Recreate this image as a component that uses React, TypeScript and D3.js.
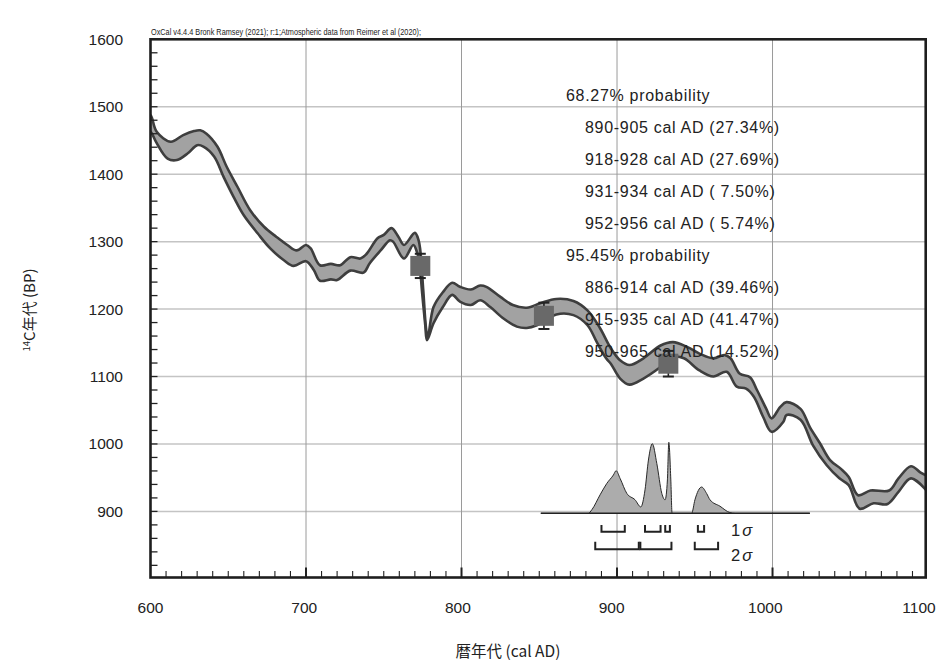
import React from "react";
import * as d3 from "d3";

// ---------- data ----------
const curveUpper: [number, number][] = [
  [600, 1488], [601, 1483], [604, 1463], [613, 1448], [621, 1458], [628, 1464], [632, 1465], [636, 1460],
  [643, 1441], [649, 1411], [656, 1381], [664, 1347], [673, 1322], [681, 1307], [688, 1295], [694, 1287],
  [700, 1295], [703, 1290], [709, 1265], [716, 1267], [722, 1265], [728.5, 1277], [735, 1275], [739, 1282],
  [746, 1305], [750, 1310], [755, 1320], [759.5, 1307], [763, 1295], [770, 1313], [772.4, 1302], [773.5, 1287],
  [775.4, 1228], [777.3, 1169], [778.3, 1158], [782, 1203], [788, 1225], [794, 1239], [799, 1233], [806, 1229],
  [812, 1235], [816, 1233], [825, 1218], [833, 1206], [842, 1202], [851, 1209], [861, 1215], [872, 1212],
  [881, 1198], [889, 1172], [896, 1142], [902, 1124], [908, 1117], [917, 1127], [928, 1146], [936, 1151],
  [945, 1144], [953, 1134], [962, 1127], [969, 1132], [973, 1127], [979, 1104], [985.5, 1099], [990, 1080],
  [996, 1052], [999.4, 1038], [1005, 1055], [1009, 1062], [1018, 1052], [1024, 1025], [1030.5, 1001], [1037, 976],
  [1044, 963], [1049, 951], [1055, 924], [1063, 931], [1075, 931], [1081, 949], [1089, 967], [1095, 958], [1099, 953],
];
const curveLower: [number, number][] = [
  [600, 1463], [601, 1460], [604, 1446], [611, 1423], [617, 1421], [624, 1431], [630, 1443], [634, 1441],
  [641, 1426], [647, 1396], [653.5, 1366], [660, 1339], [669, 1312], [677, 1290], [686, 1272], [692, 1264],
  [700, 1271], [705, 1258], [709, 1242], [716, 1244], [720, 1243], [728.5, 1257], [737, 1254], [741, 1268],
  [748, 1287], [754, 1302], [756, 1300], [763, 1275], [769, 1295], [771.3, 1285], [772.8, 1270], [774.8, 1221],
  [776.7, 1176], [777.8, 1154], [782, 1179], [788, 1203], [794, 1221], [799, 1211], [806, 1206], [812, 1213],
  [818.5, 1203], [827, 1186], [835.6, 1174], [842, 1172], [848.5, 1176], [861, 1192], [872, 1191], [881, 1176],
  [887, 1151], [893, 1127], [896, 1119], [902, 1097], [908, 1088], [917, 1097], [928, 1114], [936, 1129],
  [943, 1127], [953, 1109], [962, 1100], [970.5, 1107], [977, 1085], [983, 1082], [988, 1070], [994, 1040],
  [999.4, 1018], [1007, 1033], [1009, 1043], [1018, 1036], [1026, 998], [1035, 968], [1043, 949], [1049, 939],
  [1056, 904], [1065, 912], [1074, 911], [1081, 929], [1089, 949], [1099, 931],
];

const dateYears = [773.5, 853, 933];
const dateBP = [1264, 1190, 1119];
const dateErr = [18, 19.5, 19];

const pdfYears = [851, 881.6, 883.8, 889.1, 893.4, 897.7, 899.4, 902, 906.3, 911.6, 915.3, 918, 920.2, 922.7,
  925.6, 928.8, 930.9, 932.4, 933.3, 934.6, 935.4, 948, 950.1, 954.4, 957.6, 959.8, 966.2, 972.6, 976, 1024];
const pdfDensity = [0, 0, 0.05, 0.26, 0.42, 0.54, 0.6, 0.49, 0.28, 0.19, 0.09, 0.33, 0.75, 0.98,
  0.7, 0.28, 0.19, 0.47, 1.0, 0.47, 0, 0, 0.19, 0.37, 0.28, 0.19, 0.1, 0.01, 0, 0];

const oneSigma: [number, number][] = [[890, 905], [918, 928], [931, 934], [952, 956]];
const twoSigma: [number, number][] = [[886, 914], [915, 935], [950, 965]];

const probHeaders = ["68.27% probability", "95.45% probability"];
const probLines68 = ["890-905 cal AD (27.34%)", "918-928 cal AD (27.69%)", "931-934 cal AD ( 7.50%)", "952-956 cal AD ( 5.74%)"];
const probLines95 = ["886-914 cal AD (39.46%)", "915-935 cal AD (41.47%)", "950-965 cal AD (14.52%)"];

const xTickLabels = [600, 700, 800, 900, 1000, 1100];
const yTickLabels = [900, 1000, 1100, 1200, 1300, 1400, 1500, 1600];

const headerText = "OxCal v4.4.4 Bronk Ramsey (2021); r:1;Atmospheric data from Reimer et al (2020);";

// ---------- layout ----------
const W = 939, H = 666;
const L = 150.5, R = 925.7, T = 39.3, B = 577.5;
const X_MIN = 600, X_MAX = 1098.5, Y_MIN = 802, Y_MAX = 1600;
const FONT = "'Liberation Sans', Arial, Helvetica, sans-serif";
const JFONT = "'Noto Sans CJK JP', 'Liberation Sans', sans-serif";

export default function App() {
  const x = d3.scaleLinear().domain([X_MIN, X_MAX]).range([L, R]);
  const y = d3.scaleLinear().domain([Y_MIN, Y_MAX]).range([B, T]);
  const pdfY = d3.scaleLinear().domain([0, 1]).range([513.3, 442.3]);

  const line = d3.line<[number, number]>().x(d => x(d[0])).y(d => y(d[1])).curve(d3.curveCatmullRom.alpha(0.5));
  const upperPath = line(curveUpper) || "";
  const lowerRev = line([...curveLower].reverse()) || "";
  const lowerPath = line(curveLower) || "";
  const fillPath = upperPath + lowerRev.replace(/^M/, "L") + "Z";

  const pdfPts = pdfYears.map((yr, i) => [yr, pdfDensity[i]] as [number, number]);
  const pdfArea = d3.area<[number, number]>().x(d => x(d[0])).y0(pdfY(0)).y1(d => pdfY(d[1])).curve(d3.curveMonotoneX)(pdfPts) || "";
  const pdfLine = d3.line<[number, number]>().x(d => x(d[0])).y(d => pdfY(d[1])).curve(d3.curveMonotoneX)(pdfPts) || "";

  const xMinor = d3.range(610, 1100, 10);
  const xMajor = [700, 800, 900, 1000];
  const yMinor = d3.range(820, 1600, 20);

  const sq = 20;

  const bracket = (r: [number, number], top: number, bot: number, key: string) => (
    <path key={key} d={`M${x(r[0])},${top}V${bot}H${x(r[1])}V${top}`} fill="none" stroke="#222" strokeWidth={2} />
  );

  return (
    <svg width={W} height={H} style={{ display: "block", position: "absolute", left: 0, top: 0, background: "#fff" }}>
      <defs>
        <clipPath id="plotclip"><rect x={L} y={T} width={R - L} height={B - T} /></clipPath>
      </defs>
      <rect x={0} y={0} width={W} height={H} fill="#fff" />

      {/* grid */}
      {yTickLabels.filter(v => v < 1600).map(v => (
        <line key={"hg" + v} x1={L} x2={R} y1={y(v)} y2={y(v)} stroke="#c4c4c4" strokeWidth={1.5} />
      ))}
      {xMajor.map(v => (
        <line key={"vg" + v} x1={x(v)} x2={x(v)} y1={T} y2={B} stroke="#9a9a9a" strokeWidth={1} />
      ))}

      {/* calibration curve */}
      <g clipPath="url(#plotclip)">
        <path d={fillPath} fill="#a2a2a2" stroke="none" />
        <path d={upperPath} fill="none" stroke="#3e3e3e" strokeWidth={2.6} strokeLinejoin="round" />
        <path d={lowerPath} fill="none" stroke="#3e3e3e" strokeWidth={2.6} strokeLinejoin="round" />
      </g>

      {/* probability distribution */}
      <path d={pdfArea} fill="#acacac" stroke="none" />
      <path d={pdfLine} fill="none" stroke="#2a2a2a" strokeWidth={1} />
      <line x1={x(851)} x2={x(1024)} y1={pdfY(0)} y2={pdfY(0)} stroke="#222" strokeWidth={1.6} />

      {/* ranges */}
      {oneSigma.map((r, i) => bracket(r, 525, 531.7, "s1" + i))}
      {twoSigma.map((r, i) => bracket(r, 541.7, 549.3, "s2" + i))}
      <text x={731} y={535.5} fontFamily={FONT} fontSize={16.5} fill="#222">1<tspan dx={2} fontStyle="italic">σ</tspan></text>
      <text x={731} y={560.5} fontFamily={FONT} fontSize={16.5} fill="#222">2<tspan dx={2} fontStyle="italic">σ</tspan></text>

      {/* dates */}
      {dateYears.map((yr, i) => {
        const cx = x(yr), t = y(dateBP[i] + dateErr[i]), b = y(dateBP[i] - dateErr[i]);
        return (
          <g key={"d" + i}>
            <line x1={cx} x2={cx} y1={t} y2={b} stroke="#222" strokeWidth={1.6} />
            <line x1={cx - 5.5} x2={cx + 5.5} y1={t} y2={t} stroke="#222" strokeWidth={2} />
            <line x1={cx - 5.5} x2={cx + 5.5} y1={b} y2={b} stroke="#222" strokeWidth={2} />
            <rect x={cx - sq / 2} y={y(dateBP[i]) - sq / 2} width={sq} height={sq} fill="#696969" />
          </g>
        );
      })}

      {/* probability text */}
      <g fontFamily={FONT} fontSize={16} fill="#222" letterSpacing={0.7}>
        <text x={566} y={101}>{probHeaders[0]}</text>
        {probLines68.map((s, i) => (
          <text key={"p68" + i} x={585} y={133 + i * 32} xmlSpace="preserve" style={{ whiteSpace: "pre" }}>{s}</text>
        ))}
        <text x={566} y={261}>{probHeaders[1]}</text>
        {probLines95.map((s, i) => (
          <text key={"p95" + i} x={585} y={293 + i * 32} xmlSpace="preserve" style={{ whiteSpace: "pre" }}>{s}</text>
        ))}
      </g>

      {/* ticks */}
      {xMinor.map(v => (
        <line key={"xt" + v} x1={x(v)} x2={x(v)} y1={B} y2={B - (xMajor.includes(v) ? 10 : 6.5)} stroke="#222" strokeWidth={xMajor.includes(v) ? 2 : 1.1} />
      ))}
      {yMinor.map(v => (
        <line key={"yt" + v} x1={L} x2={L + 7} y1={y(v)} y2={y(v)} stroke="#222" strokeWidth={1.3} />
      ))}

      {/* frame */}
      <rect x={L} y={T} width={R - L} height={B - T} fill="none" stroke="#1e1e1e" strokeWidth={2.6} />

      {/* tick labels */}
      {yTickLabels.map(v => (
        <text key={"yl" + v} x={123} y={y(v) + 5.5} textAnchor="end" fontFamily={FONT} fontSize={15.5} fill="#222">{v}</text>
      ))}
      {xTickLabels.map(v => (
        <text key={"xl" + v} x={x(v) - ((v - 600) / 100) * 1.8} y={613} textAnchor="middle" fontFamily={FONT} fontSize={15.5} fill="#222">{v}</text>
      ))}

      {/* header */}
      <text x={151} y={35} fontFamily={FONT} fontSize={8.6} fill="#222" textLength={270} lengthAdjust="spacingAndGlyphs">{headerText}</text>

      {/* axis titles */}
      <text x={508} y={657} textAnchor="middle" fontFamily={JFONT} fontSize={15.5} fill="#222">暦年代 (cal AD)</text>
      <text transform={`translate(35,310) rotate(-90)`} textAnchor="middle" fontFamily={JFONT} fontSize={15} fill="#222">
        <tspan fontSize={9.5} dy={-5}>14</tspan><tspan dy={5}>C年代 (BP)</tspan>
      </text>
    </svg>
  );
}
